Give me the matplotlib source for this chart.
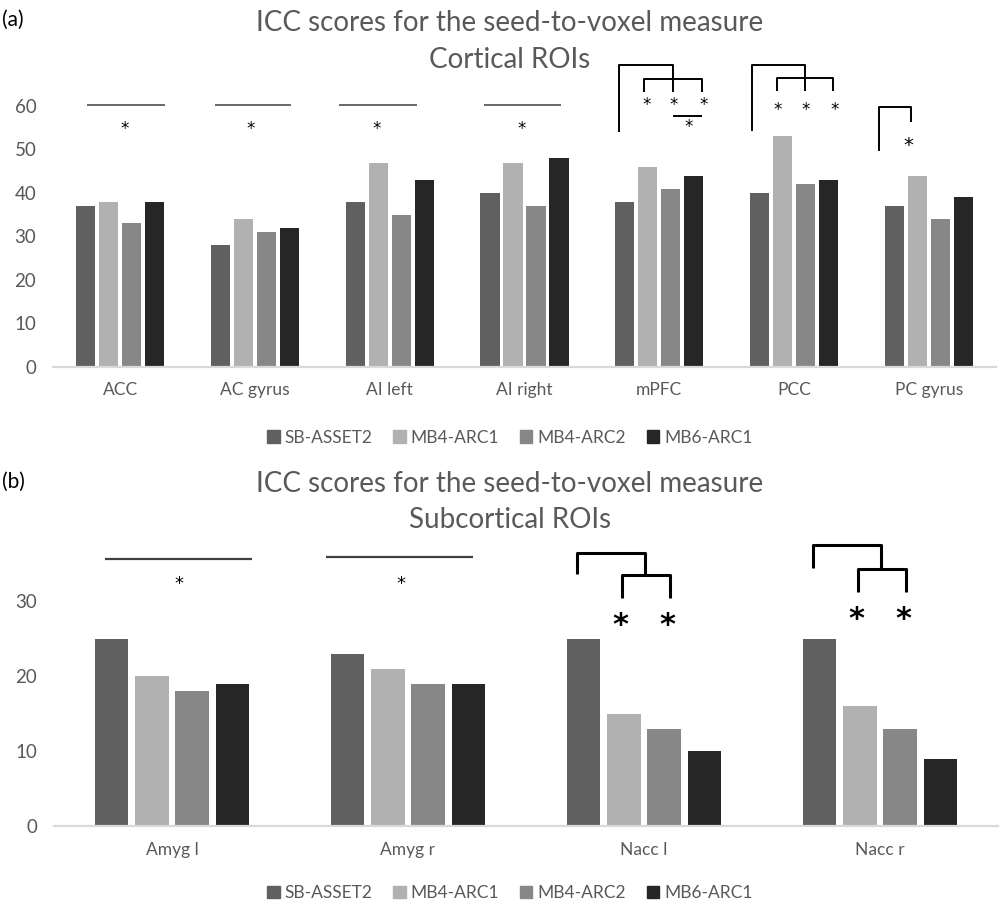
import matplotlib
matplotlib.use("Agg")
import matplotlib.pyplot as plt
from matplotlib.patches import Patch
import numpy as np

plt.rcParams["font.family"] = ["Lato", "DejaVu Sans"]

series = ["SB-ASSET2", "MB4-ARC1", "MB4-ARC2", "MB6-ARC1"]
colors = ["#606060", "#b1b1b1", "#878787", "#262626"]

cortical_rois = ["ACC", "AC gyrus", "AI left", "AI right", "mPFC", "PCC", "PC gyrus"]
sb_asset2_cort = [37, 28, 38, 40, 38, 40, 37]
mb4_arc1_cort = [38, 34, 47, 47, 46, 53, 44]
mb4_arc2_cort = [33, 31, 35, 37, 41, 42, 34]
mb6_arc1_cort = [38, 32, 43, 48, 44, 43, 39]

subcortical_rois = ["Amyg l", "Amyg r", "Nacc l", "Nacc r"]
sb_asset2_sub = [25, 23, 25, 25]
mb4_arc1_sub = [20, 21, 15, 16]
mb4_arc2_sub = [18, 19, 13, 13]
mb6_arc1_sub = [19, 19, 10, 9]

TXT = "#595959"
SLOT, WIDTH = 0.171, 0.142

fig = plt.figure(figsize=(10, 9.06), dpi=100)
ax_a = fig.add_axes([0.053, 0.595, 0.943, 0.336])
ax_b = fig.add_axes([0.054, 0.088, 0.944, 0.331])


def draw_bars(ax, rois, values, ylim, yticks, xfs):
    x = np.arange(len(rois))
    for j, vals in enumerate(values):
        ax.bar(x + (j - 1.5) * SLOT, vals, WIDTH, color=colors[j], zorder=2)
    ax.set_xlim(-0.5, len(rois) - 0.5)
    ax.set_ylim(*ylim)
    ax.set_yticks(yticks)
    ax.set_xticks(x)
    ax.set_xticklabels(rois, fontsize=xfs, color=TXT)
    ax.tick_params(axis="y", length=0, labelsize=13.5, labelcolor=TXT, pad=12)
    ax.tick_params(axis="x", length=0, pad=11)
    for s in ["top", "right", "left"]:
        ax.spines[s].set_visible(False)
    ax.spines["bottom"].set_color("#d9d9d9")
    ax.spines["bottom"].set_linewidth(1.6)


def seg(ax, xs, ys, lw=1.4, color="black"):
    ax.plot(xs, ys, color=color, lw=lw, clip_on=False, solid_capstyle="butt", zorder=3)


def star(ax, x, y, fs=12, weight="normal"):
    ax.text(x, y, "*", ha="center", va="center", fontsize=fs, fontweight=weight,
            color="black", clip_on=False, family="DejaVu Sans")


# (a) cortical ROIs
draw_bars(ax_a, cortical_rois,
          [sb_asset2_cort, mb4_arc1_cort, mb4_arc2_cort, mb6_arc1_cort],
          (0, 70), range(0, 61, 10), 12.5)

# single significance lines over the first four ROIs
for i, (l, r, sx) in enumerate([(-0.245, 0.335, 0.03), (-0.30, 0.27, -0.03),
                                (-0.38, 0.20, -0.10), (-0.30, 0.27, -0.02)]):
    seg(ax_a, [i + l, i + r], [60.2, 60.2], lw=1.1, color="#404040")
    star(ax_a, i + sx, 54.6)

# mPFC
c = 4
seg(ax_a, [c - 0.296, c - 0.296, c + 0.105, c + 0.105], [54, 69.4, 69.4, 66.2])
seg(ax_a, [c - 0.11, c - 0.11, c + 0.32, c + 0.32], [63.2, 66.2, 66.2, 63.2])
seg(ax_a, [c + 0.105, c + 0.105], [66.2, 63.2])
for dx in (-0.09, 0.11, 0.33):
    star(ax_a, c + dx, 60.2)
seg(ax_a, [c + 0.105, c + 0.32], [57.7, 57.7])
star(ax_a, c + 0.22, 55.1)

# PCC
c = 5
seg(ax_a, [c - 0.308, c - 0.308, c + 0.085, c + 0.085], [54.3, 69.4, 69.4, 66.4])
seg(ax_a, [c - 0.123, c - 0.123, c + 0.293, c + 0.293], [63.4, 66.4, 66.4, 63.4])
seg(ax_a, [c + 0.085, c + 0.085], [66.4, 63.4])
for dx in (-0.118, 0.09, 0.30):
    star(ax_a, c + dx, 59.0)

# PC gyrus
c = 6
seg(ax_a, [c - 0.365, c - 0.365, c - 0.128, c - 0.128], [49.7, 59.8, 59.8, 56.3])
star(ax_a, c - 0.15, 50.9, fs=14)

# (b) subcortical ROIs
draw_bars(ax_b, subcortical_rois,
          [sb_asset2_sub, mb4_arc1_sub, mb4_arc2_sub, mb6_arc1_sub],
          (0, 40), range(0, 31, 10), 12.5)

for i, (l, r, sx, ly) in enumerate([(-0.285, 0.337, 0.03, 35.7),
                                     (-0.347, 0.275, -0.03, 35.9)]):
    seg(ax_b, [i + l, i + r], [ly, ly], lw=1.6, color="#404040")
    star(ax_b, i + sx, 32.3, fs=13)

for c, top, inner, leg_out, leg_in, sy in [(2, 36.5, 33.5, 33.6, 30.4, 26.8),
                                          (3, 37.5, 34.3, 34.4, 31.2, 27.6)]:
    seg(ax_b, [c - 0.285, c - 0.285, c + 0.004, c + 0.004], [leg_out, top, top, inner], lw=2.2)
    seg(ax_b, [c - 0.095, c - 0.095, c + 0.11, c + 0.11], [leg_in, inner, inner, leg_in], lw=2.2)
    star(ax_b, c - 0.10, sy, fs=22, weight="bold")
    star(ax_b, c + 0.10, sy, fs=22, weight="bold")

# titles and panel tags
fig.text(0.51, 0.975, "ICC scores for the seed-to-voxel measure", ha="center", va="center",
         fontsize=20, color=TXT)
fig.text(0.51, 0.934, "Cortical ROIs", ha="center", va="center", fontsize=20, color=TXT)
fig.text(0.51, 0.466, "ICC scores for the seed-to-voxel measure", ha="center", va="center",
         fontsize=20, color=TXT)
fig.text(0.51, 0.426, "Subcortical ROIs", ha="center", va="center", fontsize=20, color=TXT)
fig.text(0.002, 0.978, "(a)", ha="left", va="center", fontsize=15, color="black")
fig.text(0.002, 0.468, "(b)", ha="left", va="center", fontsize=15, color="black")

handles = [Patch(color=col, label=lab) for col, lab in zip(colors, series)]
for yl in (0.517, 0.014):
    fig.legend(handles=handles, loc="center", bbox_to_anchor=(0.51, yl), ncol=4,
               frameon=False, fontsize=12.5, handlelength=0.7, handleheight=0.7,
               handletextpad=0.3, columnspacing=1.2, labelcolor=TXT)

fig.savefig("out.png", dpi=100)
